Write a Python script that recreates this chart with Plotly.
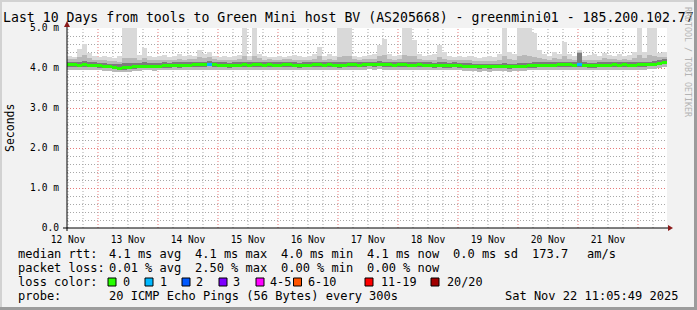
import plotly.graph_objects as go
import pandas as pd

# ---------------- data (ms) ----------------
start = pd.Timestamp("2025-11-12 11:36")
end = pd.Timestamp("2025-11-22 11:36")
bin_hours = 2

med = [4.08, 4.08, 4.07, 4.08, 4.07, 4.07, 4.06, 4.05, 4.04, 4.02,
       4.00, 4.01, 4.02, 4.03, 4.04, 4.05, 4.05, 4.04, 4.05, 4.06,
       4.06, 4.07, 4.06, 4.07, 4.07, 4.08, 4.08, 4.08, 4.09, 4.08,
       4.07, 4.07, 4.06, 4.07, 4.07, 4.08, 4.07, 4.08, 4.08, 4.07,
       4.08, 4.07, 4.07, 4.08, 4.08, 4.07, 4.06, 4.07, 4.07, 4.08,
       4.08, 4.07, 4.08, 4.07, 4.06, 4.07, 4.08, 4.08, 4.07, 4.08,
       4.09, 4.08, 4.09, 4.08, 4.08, 4.07, 4.08, 4.08, 4.07, 4.07,
       4.08, 4.07, 4.07, 4.06, 4.07, 4.06, 4.06, 4.07, 4.06, 4.05,
       4.05, 4.04, 4.03, 4.04, 4.03, 4.04, 4.04, 4.04, 4.03, 4.04,
       4.05, 4.05, 4.06, 4.06, 4.07, 4.07, 4.07, 4.07, 4.08, 4.08,
       4.08, 4.07, 4.08, 4.07, 4.06, 4.06, 4.07, 4.07, 4.07, 4.08,
       4.07, 4.08, 4.07, 4.07, 4.08, 4.08, 4.09, 4.10, 4.12, 4.15]

loss = [0] * 28 + [1] + [0] * 73 + [1] + [0] * 17

ping_min = [3.95, 3.95, 3.94, 3.95, 3.94, 3.95, 3.94, 3.93, 3.92, 3.91,
            3.89, 3.90, 3.91, 3.92, 3.93, 3.94, 3.94, 3.93, 3.94, 3.95,
            3.95, 3.95, 3.94, 3.95, 3.95, 3.96, 3.96, 3.95, 3.96, 3.96,
            3.95, 3.95, 3.94, 3.95, 3.95, 3.96, 3.95, 3.96, 3.96, 3.95,
            3.96, 3.95, 3.95, 3.96, 3.96, 3.95, 3.94, 3.95, 3.95, 3.96,
            3.96, 3.95, 3.96, 3.95, 3.94, 3.95, 3.96, 3.96, 3.95, 3.96,
            3.97, 3.96, 3.97, 3.96, 3.96, 3.95, 3.96, 3.96, 3.95, 3.95,
            3.96, 3.95, 3.95, 3.94, 3.95, 3.94, 3.94, 3.95, 3.94, 3.93,
            3.93, 3.92, 3.91, 3.92, 3.91, 3.92, 3.92, 3.92, 3.91, 3.92,
            3.93, 3.93, 3.94, 3.94, 3.95, 3.95, 3.95, 3.95, 3.96, 3.96,
            3.96, 3.95, 3.96, 3.95, 3.94, 3.94, 3.95, 3.95, 3.95, 3.96,
            3.95, 3.96, 3.95, 3.95, 3.96, 3.96, 3.97, 3.98, 4.00, 4.03]

ping_q1 = [4.03, 4.03, 4.02, 4.03, 4.02, 4.02, 4.01, 4.00, 3.99, 3.97,
           3.95, 3.96, 3.97, 3.98, 3.99, 4.00, 4.00, 3.99, 4.00, 4.01,
           4.01, 4.02, 4.01, 4.02, 4.02, 4.03, 4.03, 4.03, 4.04, 4.03,
           4.02, 4.02, 4.01, 4.02, 4.02, 4.03, 4.02, 4.03, 4.03, 4.02,
           4.03, 4.02, 4.02, 4.03, 4.03, 4.02, 4.01, 4.02, 4.02, 4.03,
           4.03, 4.02, 4.03, 4.02, 4.01, 4.02, 4.03, 4.03, 4.02, 4.03,
           4.04, 4.03, 4.04, 4.03, 4.03, 4.02, 4.03, 4.03, 4.02, 4.02,
           4.03, 4.02, 4.02, 4.01, 4.02, 4.01, 4.01, 4.02, 4.01, 4.00,
           4.00, 3.99, 3.98, 3.99, 3.98, 3.99, 3.99, 3.99, 3.98, 3.99,
           4.00, 4.00, 4.01, 4.01, 4.02, 4.02, 4.02, 4.02, 4.03, 4.03,
           4.03, 4.02, 4.03, 4.02, 4.01, 4.01, 4.02, 4.02, 4.02, 4.03,
           4.02, 4.03, 4.02, 4.02, 4.03, 4.03, 4.04, 4.05, 4.07, 4.10]

ping_q3 = [4.15, 4.15, 4.16, 4.17, 4.15, 4.14, 4.13, 4.12, 4.11, 4.10,
           4.09, 4.12, 4.13, 4.12, 4.12, 4.14, 4.13, 4.12, 4.13, 4.14,
           4.13, 4.14, 4.14, 4.14, 4.15, 4.15, 4.16, 4.15, 4.17, 4.15,
           4.14, 4.14, 4.13, 4.14, 4.15, 4.16, 4.14, 4.16, 4.15, 4.14,
           4.15, 4.14, 4.14, 4.15, 4.15, 4.14, 4.13, 4.14, 4.14, 4.15,
           4.16, 4.14, 4.15, 4.14, 4.14, 4.15, 4.16, 4.15, 4.14, 4.15,
           4.16, 4.15, 4.17, 4.16, 4.15, 4.14, 4.15, 4.16, 4.15, 4.15,
           4.15, 4.14, 4.14, 4.13, 4.15, 4.14, 4.13, 4.14, 4.13, 4.12,
           4.12, 4.11, 4.10, 4.11, 4.10, 4.11, 4.11, 4.12, 4.11, 4.11,
           4.13, 4.13, 4.13, 4.14, 4.14, 4.14, 4.14, 4.14, 4.15, 4.16,
           4.15, 4.14, 4.38, 4.14, 4.13, 4.13, 4.14, 4.14, 4.14, 4.15,
           4.14, 4.15, 4.14, 4.14, 4.16, 4.15, 4.16, 4.17, 4.19, 4.22]

ping_hi = [4.23, 4.22, 4.28, 4.32, 4.24, 4.21, 4.20, 4.20, 4.18, 4.17,
           4.16, 4.25, 4.26, 4.24, 4.20, 4.26, 4.20, 4.19, 4.20, 4.21,
           4.20, 4.21, 4.22, 4.21, 4.23, 4.22, 4.28, 4.24, 4.27, 4.22,
           4.21, 4.21, 4.20, 4.21, 4.22, 4.30, 4.21, 4.30, 4.24, 4.21,
           4.22, 4.21, 4.21, 4.22, 4.22, 4.21, 4.20, 4.21, 4.21, 4.23,
           4.30, 4.21, 4.23, 4.21, 4.28, 4.30, 4.29, 4.22, 4.21, 4.22,
           4.23, 4.23, 4.30, 4.33, 4.23, 4.21, 4.22, 4.32, 4.30, 4.29,
           4.23, 4.21, 4.21, 4.20, 4.28, 4.23, 4.20, 4.21, 4.20, 4.19,
           4.19, 4.18, 4.17, 4.18, 4.17, 4.18, 4.20, 4.30, 4.22, 4.20,
           4.30, 4.32, 4.30, 4.28, 4.25, 4.22, 4.21, 4.24, 4.22, 4.30,
           4.23, 4.21, 4.40, 4.21, 4.20, 4.21, 4.21, 4.24, 4.22, 4.22,
           4.21, 4.22, 4.21, 4.24, 4.33, 4.25, 4.32, 4.30, 4.27, 4.28]

ping_max = [4.30, 4.28, 4.47, 4.60, 4.37, 4.30, 4.28, 4.30, 4.27, 4.25,
            4.30, 5.40, 5.40, 5.40, 4.32, 4.50, 4.30, 4.28, 4.30, 4.32,
            4.28, 4.30, 4.35, 4.30, 4.33, 4.30, 4.45, 4.35, 4.40, 4.30,
            4.28, 4.30, 4.27, 4.30, 4.32, 5.40, 4.30, 5.40, 4.35, 4.30,
            4.28, 4.27, 4.30, 4.28, 4.30, 4.32, 4.30, 4.28, 4.30, 4.35,
            4.53, 4.30, 4.35, 4.30, 5.40, 5.40, 5.40, 4.30, 4.28, 4.30,
            4.32, 4.35, 4.57, 4.72, 4.35, 4.30, 4.33, 5.40, 5.40, 4.70,
            4.35, 4.30, 4.32, 4.35, 4.57, 4.40, 4.30, 4.28, 4.30, 4.27,
            4.30, 4.28, 4.25, 4.27, 4.30, 4.28, 4.35, 5.40, 4.40, 4.35,
            5.40, 5.40, 5.40, 4.87, 4.45, 4.35, 4.30, 4.40, 4.35, 4.65,
            4.35, 4.30, 4.45, 4.30, 4.32, 4.35, 4.30, 4.38, 4.33, 4.30,
            4.35, 4.30, 4.32, 4.40, 5.40, 4.40, 5.40, 5.40, 4.38, 4.40]

y_tick_vals = [0, 1, 2, 3, 4, 5]
y_tick_text = ["0.0", "1.0 m", "2.0 m", "3.0 m", "4.0 m", "5.0 m"]
day_labels = ["12 Nov", "13 Nov", "14 Nov", "15 Nov", "16 Nov",
              "17 Nov", "18 Nov", "19 Nov", "20 Nov", "21 Nov"]
label_days = pd.date_range("2025-11-12 12:00", periods=10, freq="D")
midnights = pd.date_range("2025-11-13 00:00", periods=10, freq="D")
six_hours = pd.date_range("2025-11-12 12:00", "2025-11-22 06:00", freq="6h")

loss_names = ["0", "1", "2", "3", "4-5", "6-10", "11-19", "20/20"]
loss_colors = ["#26ff00", "#00b8ff", "#0059ff", "#7e00ff",
               "#ff00ff", "#ff5500", "#ff0000", "#a10000"]

# ---------------- layout constants ----------------
W, H = 697, 310
L, R, T, B = 67, 30, 28, 82
PW, PH = W - L - R, H - T - B
MONO = "DejaVu Sans Mono"
GRID_GRAY = "#a8a8a8"
GRID_RED = "#e87878"


def px(x):
    return (x - L) / PW


def py(y):
    return (H - B - y) / PH


times = [start + pd.Timedelta(hours=bin_hours * (i + 0.5)) for i in range(len(med))]
bw = bin_hours * 3600 * 1000

fig = go.Figure()


def band(lo, hi, color):
    fig.add_trace(go.Bar(x=times, base=lo, y=[h - l for h, l in zip(hi, lo)],
                         width=bw, marker=dict(color=color, line=dict(width=0)),
                         showlegend=False, hoverinfo="skip"))


band(ping_min, ping_max, "#d9d9d9")
band(ping_min, ping_hi, "#b8b8b8")
band(ping_q1, ping_q3, "#7c7c7c")

line_h = 0.075
fig.add_trace(go.Bar(x=times, base=[m - line_h / 2 for m in med], y=[line_h] * len(med),
                     width=bw, marker=dict(color=[loss_colors[v] for v in loss], line=dict(width=0)),
                     showlegend=False, hoverinfo="skip"))

shapes = []
for t in six_hours:
    if t.hour != 0:
        shapes.append(dict(type="line", xref="x", yref="paper", x0=t, x1=t, y0=0, y1=1,
                           line=dict(color=GRID_GRAY, width=1, dash="1px,2px"), layer="between"))
for t in midnights:
    shapes.append(dict(type="line", xref="x", yref="paper", x0=t, x1=t, y0=0, y1=1,
                       line=dict(color=GRID_RED, width=1, dash="1px,2px"), layer="between"))

# axis lines and arrows
shapes.append(dict(type="line", xref="paper", yref="paper", x0=px(63), x1=px(669), y0=0, y1=0,
                   line=dict(color="black", width=1), layer="above"))
shapes.append(dict(type="line", xref="paper", yref="paper", x0=0, x1=0, y0=py(231), y1=py(24),
                   line=dict(color="black", width=1), layer="above"))
shapes.append(dict(type="path", xref="paper", yref="paper",
                   path=f"M {px(668)} {py(225)} L {px(673)} {py(228)} L {px(668)} {py(231)} Z",
                   fillcolor="#8b1a1a", line=dict(width=0), layer="above"))
shapes.append(dict(type="path", xref="paper", yref="paper",
                   path=f"M {px(64)} {py(27)} L {px(67)} {py(21)} L {px(70)} {py(27)} Z",
                   fillcolor="#8b1a1a", line=dict(width=0), layer="above"))

# frame shading
shapes.append(dict(type="rect", xref="paper", yref="paper", x0=px(0), x1=px(697), y0=py(310), y1=py(307),
                   fillcolor="#9c9c9c", line=dict(width=0), layer="above"))
shapes.append(dict(type="rect", xref="paper", yref="paper", x0=px(694), x1=px(697), y0=py(310), y1=py(0),
                   fillcolor="#9c9c9c", line=dict(width=0), layer="above"))
shapes.append(dict(type="rect", xref="paper", yref="paper", x0=px(0), x1=px(2), y0=py(307), y1=py(0),
                   fillcolor="#d2d2d2", line=dict(width=0), layer="above"))
shapes.append(dict(type="rect", xref="paper", yref="paper", x0=px(0), x1=px(694), y0=py(2), y1=py(0),
                   fillcolor="#d2d2d2", line=dict(width=0), layer="above"))

annotations = []


def text(s, x, y, size=12, anchor="left", color="black", angle=0):
    annotations.append(dict(text=s, x=px(x), y=py(y), xref="paper", yref="paper",
                            xanchor=anchor, yanchor="middle", showarrow=False, textangle=angle,
                            font=dict(family=MONO, size=size, color=color)))


text("Last 10 Days from tools to Green Mini host BV (AS205668) - greenmini01 - 185.200.102.77",
     348.5, 17, size=13.2, anchor="center")
text("Seconds", 10, 128, size=11.5, anchor="center", angle=-90)
text("RRDTOOL / TOBI OETIKER", 688, 62, size=8.3, anchor="center", color="#b4b4b4", angle=90)

rows = [254, 268, 282, 296]
text("median rtt:", 16, rows[0])
for s, x in [("4.1 ms avg", 107), ("4.1 ms max", 193), ("4.0 ms min", 279),
             ("4.1 ms now", 365), ("0.0 ms sd", 451), ("173.7", 530), ("am/s", 585)]:
    text(s, x, rows[0])
text("packet loss:", 16, rows[1])
for s, x in [("0.01 % avg", 107), ("2.50 % max", 193), ("0.00 % min", 279), ("0.00 % now", 365)]:
    text(s, x, rows[1])
text("loss color:", 16, rows[2])
box_x = [108, 145, 182, 219, 256, 293.5, 365, 431]
text_x = [121, 157.5, 194, 231, 268, 306, 379, 445]
for name, col, bx, tx in zip(loss_names, loss_colors, box_x, text_x):
    shapes.append(dict(type="rect", xref="paper", yref="paper", x0=px(bx), x1=px(bx + 8),
                       y0=py(286), y1=py(278), fillcolor=col, line=dict(color="black", width=1)))
    text(name, tx, rows[2], size=11.8)
text("probe:", 16, rows[3])
text("20 ICMP Echo Pings (56 Bytes) every 300s", 107, rows[3])
text("Sat Nov 22 11:05:49 2025", 680, rows[3], anchor="right")

fig.update_layout(
    width=W, height=H, margin=dict(l=L, r=R, t=T, b=B, pad=0),
    paper_bgcolor="#f2f2f2", plot_bgcolor="white",
    barmode="overlay", bargap=0, showlegend=False,
    shapes=shapes, annotations=annotations,
    xaxis=dict(type="date", range=[start, end], tickmode="array", tickvals=label_days,
               ticktext=day_labels, showgrid=False, showline=False, zeroline=False,
               ticks="", ticklabelstandoff=4,
               tickfont=dict(family=MONO, size=9.6, color="black")),
    yaxis=dict(range=[0, 5], tickmode="array", tickvals=y_tick_vals, ticktext=y_tick_text,
               showgrid=True, gridcolor=GRID_RED, griddash="1px,2px", gridwidth=1,
               zeroline=False, showline=False, ticks="", ticklabelstandoff=7,
               tickfont=dict(family=MONO, size=9.6, color="black"),
               minor=dict(tickmode="linear", tick0=0, dtick=0.2, showgrid=True,
                          gridcolor=GRID_GRAY, griddash="1px,2px", gridwidth=1)),
)

fig.write_html("out.html")
